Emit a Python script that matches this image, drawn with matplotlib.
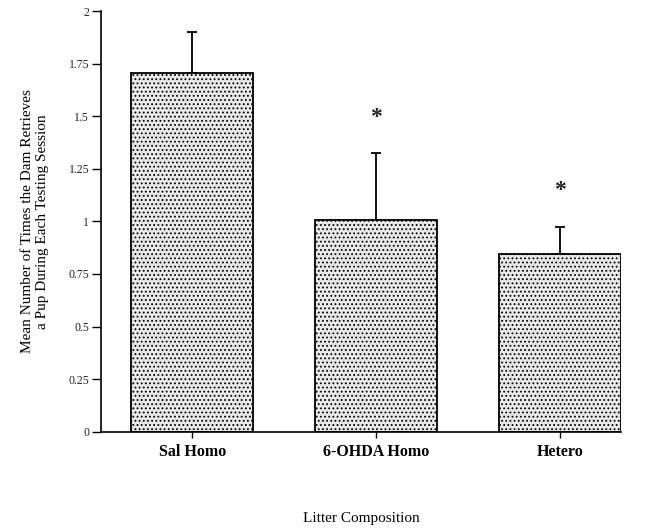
import matplotlib
matplotlib.use('Agg')
from matplotlib import pyplot as plt

# Daten
groups = ['Sal Homo', '6-OHDA Homo', 'Hetero']
means = [1.705, 1.005, 0.845]
sems = [0.195, 0.32, 0.13]
signif = ['', '*', '*']

y_ticks = [0, 0.25, 0.5, 0.75, 1, 1.25, 1.5, 1.75, 2]
y_ticklabels = ['0', '0.25', '0.5', '0.75', '1', '1.25', '1.5', '1.75', '2']

plt.rcParams['font.family'] = ['Liberation Serif', 'DejaVu Serif']
plt.rcParams['hatch.linewidth'] = 0.8
plt.rcParams['hatch.color'] = '#555555'

fig = plt.figure(figsize=(6.54, 5.29), dpi=100)
ax = fig.add_axes([0.1544, 0.184, 0.795, 0.795])

x = list(range(len(groups)))
ax.bar(x, means, width=0.665, color='#e8e8e8', edgecolor='black',
       linewidth=1.3, hatch='....', zorder=2)
ax.errorbar(x, means, yerr=[[0] * len(sems), sems], fmt='none',
            ecolor='black', elinewidth=1.3, capsize=3.3, capthick=1.3, zorder=1)

for xi, m, s, star in zip(x, means, sems, signif):
    if star:
        ax.text(xi, m + s + 0.17, star, ha='center', va='center',
                fontsize=17, fontweight='bold', color='#222222')

ax.set_xlim(-0.496, 2.333)
ax.set_ylim(0, 2)
ax.set_yticks(y_ticks)
ax.set_yticklabels(y_ticklabels, fontsize=8.5, color='#222222')
ax.set_xticks(x)
ax.set_xticklabels(groups, fontsize=11.5, fontweight='bold')

ax.spines['top'].set_visible(False)
ax.spines['right'].set_visible(False)
ax.spines['left'].set_linewidth(1.2)
ax.spines['bottom'].set_linewidth(1.2)
ax.tick_params(axis='y', direction='out', length=6.5, width=1.0, pad=2)
ax.tick_params(axis='x', direction='out', length=4, width=1.0, pad=5)

ax.set_ylabel('Mean Number of Times the Dam Retrieves\na Pup During Each Testing Session',
              fontsize=11, linespacing=1.15)
ax.yaxis.set_label_coords(-0.1, 0.5)
ax.set_xlabel('Litter Composition', fontsize=11)
ax.xaxis.set_label_coords(0.5, -0.19)

plt.savefig('out.png')
